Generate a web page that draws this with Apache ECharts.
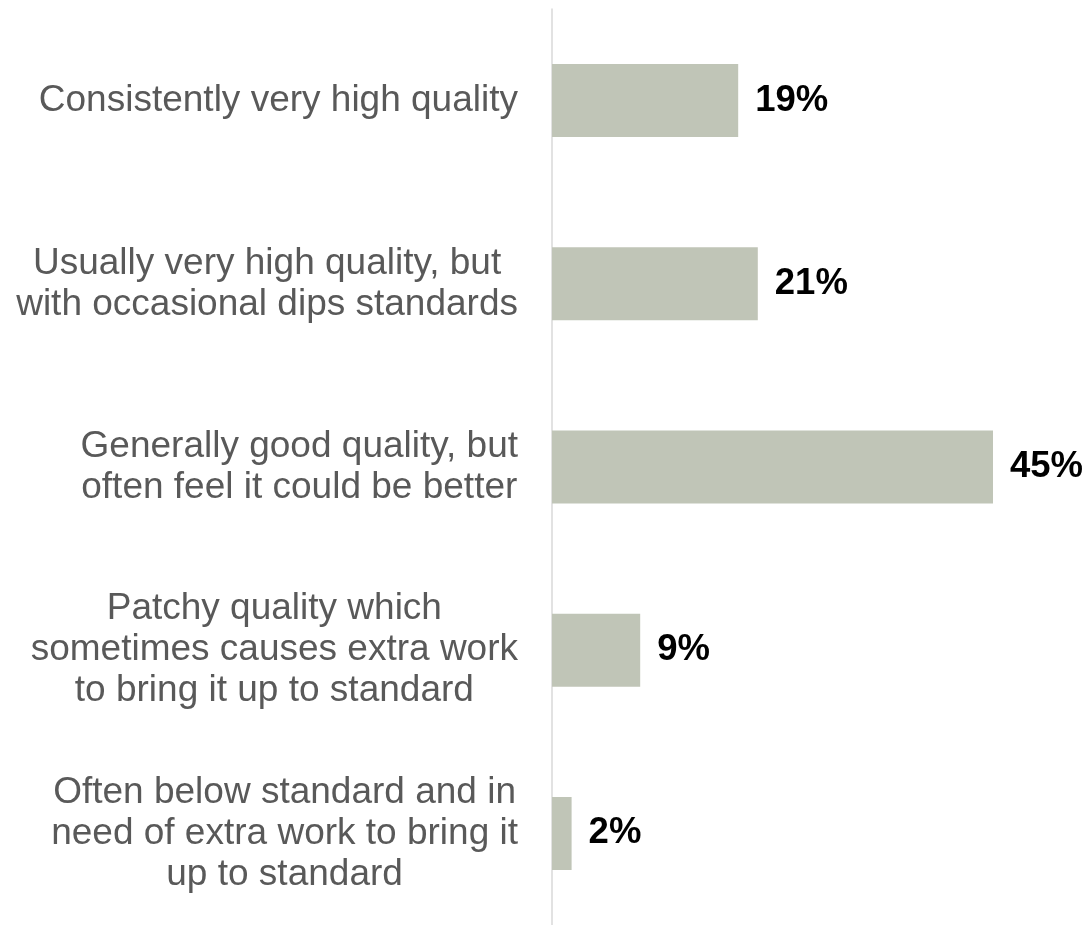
<!DOCTYPE html>
<html>
<head>
<meta charset="utf-8">
<script src="https://cdn.jsdelivr.net/npm/echarts@6/dist/echarts.min.js"></script>
<style>
  html, body { margin: 0; padding: 0; background: #ffffff; }
  #chart { width: 1091px; height: 925px; }
</style>
</head>
<body>
<div id="chart"></div>
<script>
// Survey answers (top to bottom) and share of respondents (%)
const categories = [
  'Consistently very high quality',
  'Usually very high quality, but\nwith occasional dips standards',
  'Generally good quality, but\noften feel it could be better',
  'Patchy quality which\nsometimes causes extra work\nto bring it up to standard',
  'Often below standard and in\nneed of extra work to bring it\nup to standard'
];
const shares = [19, 21, 45, 9, 2];

const FONT = '"Liberation Sans", Arial, sans-serif';

const chart = echarts.init(document.getElementById('chart'), null, { renderer: 'canvas' });

chart.setOption({
  backgroundColor: '#ffffff',
  animation: false,
  grid: { left: 552, top: 9, width: 490, height: 921, containLabel: false },
  xAxis: {
    type: 'value',
    min: 0,
    max: 50,
    show: false
  },
  yAxis: {
    type: 'category',
    inverse: true,
    data: categories,
    axisLine: { show: true, lineStyle: { color: '#d9d9d9', width: 1.5 } },
    axisTick: { show: false },
    splitLine: { show: false },
    axisLabel: {
      margin: 34,
      align: 'right',
      // each line centred inside the right-aligned label block
      formatter: function (v) {
        return v.split('\n').map(function (l) { return '{c|' + l + '}'; }).join('\n');
      },
      rich: {
        c: {
          align: 'center',
          fontFamily: FONT,
          fontSize: 37,
          lineHeight: 41,
          color: '#595959'
        }
      }
    }
  },
  series: [{
    type: 'bar',
    data: shares,
    barWidth: 73,
    itemStyle: { color: '#c0c5b7' },
    label: {
      show: true,
      position: 'right',
      distance: 17,
      formatter: '{c}%',
      fontFamily: FONT,
      fontSize: 36.5,
      fontWeight: 'bold',
      color: '#000000'
    }
  }]
});
</script>
</body>
</html>
